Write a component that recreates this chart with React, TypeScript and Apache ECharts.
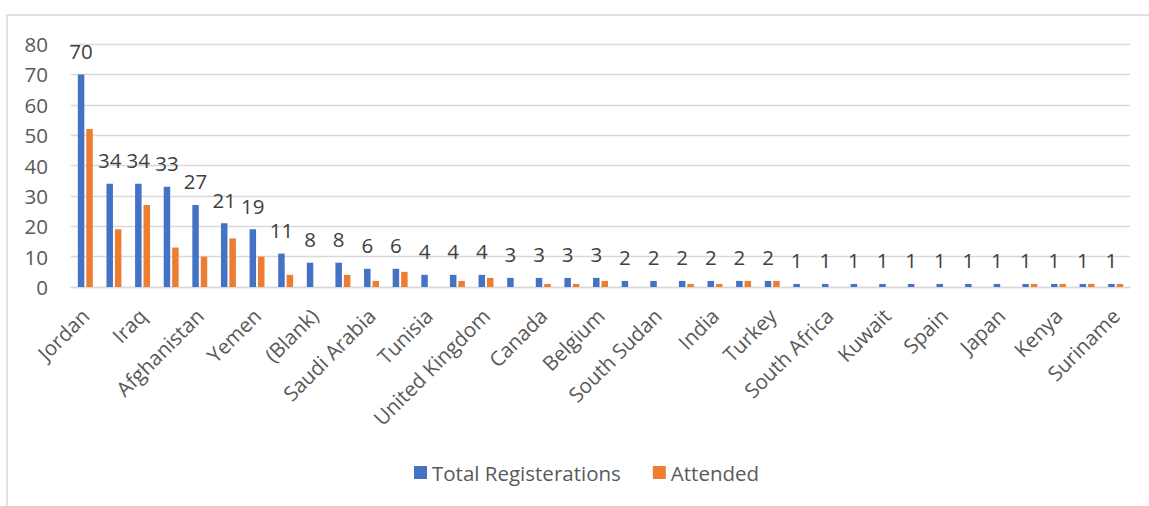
import React, { useEffect, useRef } from "react";
import * as echarts from "echarts";

const categories = [
  "Jordan", "Syria", "Iraq", "Sudan", "Afghanistan", "Egypt", "Yemen", "Palestine",
  "(Blank)", "Lebanon", "Saudi Arabia", "Pakistan", "Tunisia", "Libya", "United Kingdom",
  "United States", "Canada", "Germany", "Belgium", "France", "South Sudan", "Somalia",
  "India", "Iran", "Turkey", "Morocco", "South Africa", "Nigeria", "Kuwait", "Oman",
  "Spain", "Italy", "Japan", "Qatar", "Kenya", "Eritrea", "Suriname",
];

const totalRegistrations = [
  70, 34, 34, 33, 27, 21, 19, 11, 8, 8, 6, 6, 4, 4, 4, 3, 3, 3, 3, 2, 2, 2, 2, 2, 2,
  1, 1, 1, 1, 1, 1, 1, 1, 1, 1, 1, 1,
];

const attended = [
  52, 19, 27, 13, 10, 16, 10, 4, 0, 4, 2, 5, 0, 2, 3, 0, 1, 1, 2, 0, 0, 1, 1, 2, 2,
  0, 0, 0, 0, 0, 0, 0, 0, 1, 1, 1, 1,
];

const yTicks = { min: 0, max: 80, interval: 10 };

const FONT = "'Open Sans', 'Noto Sans', sans-serif";
const FS = 20.5;

export default function App() {
  const ref = useRef<HTMLDivElement>(null);
  useEffect(() => {
    if (!ref.current) return;
    const chart = echarts.init(ref.current, undefined, { renderer: "svg" });
    chart.setOption({
      animation: false,
      textStyle: { fontFamily: FONT },
      graphic: [
        {
          type: "rect",
          shape: { x: 7, y: 15, width: 1300, height: 700 },
          style: { fill: "none", stroke: "#d9d9d9", lineWidth: 1.5 },
          silent: true,
        },
      ],
      grid: { left: 71, right: 19, top: 44, bottom: 219, containLabel: false },
      legend: {
        left: 409,
        top: 457,
        itemWidth: 13,
        itemHeight: 13,
        itemGap: 32,
        icon: "rect",
        textStyle: { fontSize: FS, color: "#595959", fontFamily: FONT },
        data: ["Total Registerations", "Attended"],
      },
      xAxis: {
        type: "category",
        data: categories,
        axisTick: { show: false },
        axisLine: { lineStyle: { color: "#d9d9d9", width: 1.3 } },
        axisLabel: {
          interval: 1,
          rotate: 45,
          fontSize: FS,
          color: "#595959",
          margin: 25,
          fontFamily: FONT,
        },
      },
      yAxis: {
        type: "value",
        min: yTicks.min,
        max: yTicks.max,
        interval: yTicks.interval,
        axisLine: { show: false },
        axisTick: { show: false },
        splitLine: { lineStyle: { color: "#d9d9d9", width: 1.3 } },
        axisLabel: { fontSize: FS, color: "#595959", margin: 23, fontFamily: FONT },
      },
      series: [
        {
          name: "Total Registerations",
          type: "bar",
          data: totalRegistrations,
          barWidth: 6.5,
          barGap: "30%",
          itemStyle: { color: "#4472C4" },
          label: {
            show: true,
            position: "top",
            distance: 13,
            fontSize: FS,
            color: "#404040",
            fontFamily: FONT,
          },
        },
        {
          name: "Attended",
          type: "bar",
          data: attended,
          barWidth: 6.5,
          itemStyle: { color: "#ED7D31" },
        },
      ],
    });
    return () => chart.dispose();
  }, []);
  return (
    <div
      ref={ref}
      style={{ position: "fixed", left: 0, top: 0, width: 1149, height: 506, background: "#fff" }}
    />
  );
}
